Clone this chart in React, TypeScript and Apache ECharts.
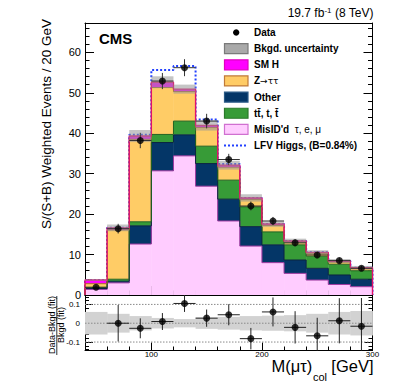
import React, { useEffect, useRef } from 'react';
import * as echarts from 'echarts';

// ---------------- data ----------------
const binLow = [40, 60, 80, 100, 120, 140, 160, 180, 200, 220, 240, 260, 280];
const binWidth = 20;
const misid = [1.4, 3.0, 12.6, 30.7, 34.4, 26.9, 18.3, 12.1, 8.0, 5.35, 3.7, 2.6, 2.05];
const other = [0.2, 0.4, 4.5, 7.0, 5.2, 5.6, 5.4, 4.8, 4.4, 3.3, 2.9, 2.35, 1.85];
const ttbar = [0.3, 0.5, 1.0, 2.0, 3.4, 4.3, 4.7, 4.9, 3.2, 3.75, 3.0, 2.65, 2.1];
const ztt = [0.9, 12.2, 20.4, 11.6, 7.3, 4.6, 3.2, 1.8, 1.6, 0.7, 0.7, 0.55, 0.5];
const smh = [0.9, 0.5, 0.8, 1.3, 0.6, 0.5, 0.5, 0.4, 0.35, 0.25, 0.25, 0.25, 0.25];
const lfvSignal = [0, 0, 0.3, 3.0, 5.7, 1.5, 0.3, 0, 0, 0, 0, 0, 0];
const dataValues = [1.9, 16.4, 38.2, 52.9, 56.2, 43.0, 33.5, 22.0, 18.3, 12.9, 9.9, 8.5, 6.6];
const dataErrors = [0.4, 1.2, 1.9, 2.0, 2.1, 1.8, 1.4, 1.1, 1.0, 0.9, 0.8, 0.7, 0.6];
const bkgRelUnc = [0.06, 0.05, 0.038, 0.028, 0.022, 0.03, 0.034, 0.038, 0.04, 0.043, 0.05, 0.06, 0.065];
const ratioValues = [null, 0.0, -0.027, 0.009, 0.105, 0.027, 0.045, -0.082, 0.06, -0.022, -0.067, 0.013, -0.016];
const ratioErrors = [null, 0.097, 0.053, 0.045, 0.045, 0.046, 0.056, 0.057, 0.077, 0.086, 0.096, 0.12, 0.15];
const ratioRefLines = [0.1, 0, -0.1];
const yTicksMain = [0, 10, 20, 30, 40, 50, 60];
const yMinorMain = [2, 4, 6, 8, 12, 14, 16, 18, 22, 24, 26, 28, 32, 34, 36, 38, 42, 44, 46, 48, 52, 54, 56, 58, 62, 64, 66];
const xTicksMajor = [100, 200, 300];
const xMinor = [60, 80, 120, 140, 160, 180, 220, 240, 260, 280];
const yTicksRatio = [-0.1, 0, 0.1];
const yMinorRatio = [-0.14, -0.12, -0.08, -0.06, -0.04, -0.02, 0.02, 0.04, 0.06, 0.08, 0.12, 0.14];
const legendLabels = ['Data', 'Bkgd. uncertainty', 'SM H', 'Z\u2192\u03c4\u03c4', 'Other', 'tt\u0304, t, t\u0304', "MisID'd", 'LFV Higgs, (B=0.84%)'];

const FONT = "'Liberation Sans', Arial, Helvetica, sans-serif";
const BLACK = '#000';

function stepPoints(tops: number[]) {
  const pts: number[][] = [[binLow[0], 0]];
  tops.forEach((t, i) => {
    pts.push([binLow[i], t]);
    pts.push([binLow[i] + binWidth, t]);
  });
  pts.push([binLow[binLow.length - 1] + binWidth, 0]);
  return pts;
}

function mkAxis(kind: 'x' | 'y', gridIndex: number, position: string, extra: any) {
  const base: any = {
    type: 'value',
    gridIndex,
    position,
    axisLine: { show: false, onZero: false, lineStyle: { color: BLACK, width: 1 } },
    axisTick: { show: false },
    axisLabel: { show: false },
    splitLine: { show: false },
  };
  if (kind === 'x') { base.min = 40; base.max = 300; }
  return { ...base, ...extra };
}
const line = { show: true, onZero: false, lineStyle: { color: BLACK, width: 1 } };
const ticks = (values: number[], length: number) => ({
  show: true, inside: true, length, customValues: values, lineStyle: { color: BLACK, width: 1 },
});

function buildOption() {
  const layers = [
    { name: 'misid', vals: misid, fill: '#ffccff', line: '#a13aa1' },
    { name: 'other', vals: other, fill: '#043667', line: '#0a2440' },
    { name: 'ttbar', vals: ttbar, fill: '#379b37', line: '#1f621f' },
    { name: 'ztt', vals: ztt, fill: '#ffcc66', line: '#a86a2a' },
    { name: 'smh', vals: smh, fill: '#ff00ff', line: '#e0106a' },
  ];
  let base = binLow.map(() => 0);
  const stacked = layers.map((l) => {
    const bottoms = base;
    const tops = base.map((b, i) => b + l.vals[i]);
    base = tops;
    return { ...l, bottoms, tops };
  });
  const total = base;

  const rectRender = (fill: string, overlap: number) => (params: any, api: any) => {
    const p1 = api.coord([api.value(0), api.value(3)]);
    const p2 = api.coord([api.value(1), api.value(2)]);
    return {
      type: 'rect',
      shape: { x: p1[0], y: p1[1], width: p2[0] - p1[0] + overlap, height: p2[1] - p1[1] },
      style: { fill },
    };
  };
  const errRender = (color: string) => (params: any, api: any) => {
    const x = api.value(0), y = api.value(1), e = api.value(2), lo = api.value(3), hi = api.value(4);
    const t = api.coord([x, y + e]);
    const b = api.coord([x, y - e]);
    const l = api.coord([lo, y]);
    const r = api.coord([hi, y]);
    return {
      type: 'group',
      children: [
        { type: 'line', shape: { x1: t[0], y1: t[1], x2: b[0], y2: b[1] }, style: { stroke: color, lineWidth: 1 } },
        { type: 'line', shape: { x1: l[0], y1: l[1], x2: r[0], y2: r[1] }, style: { stroke: color, lineWidth: 1 } },
      ],
    };
  };

  const series: any[] = [];
  series.push({
    type: 'line', name: 'LFV', xAxisIndex: 0, yAxisIndex: 0, z: 2, silent: true,
    data: stepPoints(total.map((t, i) => t + lfvSignal[i])),
    symbol: 'none', lineStyle: { color: '#2240ff', width: 2, type: [2, 2] },
  });
  stacked.forEach((l) => {
    series.push({
      type: 'custom', name: l.name + '_fill', xAxisIndex: 0, yAxisIndex: 0, z: 3, silent: true,
      data: binLow.map((lo, i) => [lo, lo + binWidth, l.bottoms[i], l.tops[i]]),
      encode: { x: [0, 1], y: [2, 3] },
      renderItem: rectRender(l.fill, 0.4),
    });
  });
  stacked.forEach((l, k) => {
    series.push({
      type: 'line', name: l.name + '_line', xAxisIndex: 0, yAxisIndex: 0, z: 4, silent: true,
      data: stepPoints(l.tops), symbol: 'none',
      lineStyle: { color: l.line, width: k === stacked.length - 1 ? 1.4 : 1 },
    });
  });
  series.push({
    type: 'custom', name: 'unc', xAxisIndex: 0, yAxisIndex: 0, z: 5, silent: true,
    data: binLow.map((lo, i) => [lo, lo + binWidth, total[i] * (1 - bkgRelUnc[i]), total[i] * (1 + bkgRelUnc[i])]),
    encode: { x: [0, 1], y: [2, 3] },
    renderItem: rectRender('rgba(150,150,150,0.55)', 0),
  });
  series.push({
    type: 'custom', name: 'dataErr', xAxisIndex: 0, yAxisIndex: 0, z: 6, silent: true,
    data: binLow.map((lo, i) => [lo + binWidth / 2, dataValues[i], dataErrors[i], lo, lo + binWidth]),
    encode: { x: 0, y: 1 },
    renderItem: errRender('#333'),
  });
  series.push({
    type: 'scatter', name: 'Data', xAxisIndex: 0, yAxisIndex: 0, z: 7, silent: true,
    data: binLow.map((lo, i) => [lo + binWidth / 2, dataValues[i]]),
    symbol: 'circle', symbolSize: 7, itemStyle: { color: BLACK },
  });
  series.push({
    type: 'custom', name: 'ratioBand', xAxisIndex: 3, yAxisIndex: 4, z: 1, silent: true,
    data: binLow.map((lo, i) => [lo, lo + binWidth, -bkgRelUnc[i], bkgRelUnc[i]]),
    encode: { x: [0, 1], y: [2, 3] },
    renderItem: rectRender('#d2d2d2', 0.4),
  });
  series.push({
    type: 'custom', name: 'ratioRef', xAxisIndex: 3, yAxisIndex: 4, z: 2, silent: true,
    data: ratioRefLines.map((v) => [40, 300, v]),
    encode: { x: [0, 1], y: 2 },
    renderItem: (params: any, api: any) => {
      const a = api.coord([api.value(0), api.value(2)]);
      const b = api.coord([api.value(1), api.value(2)]);
      return { type: 'line', shape: { x1: a[0], y1: a[1], x2: b[0], y2: b[1] }, style: { stroke: '#8a8a8a', lineWidth: 1, lineDash: [1.5, 1.5] } };
    },
  });
  const ratioRows: any[] = [];
  binLow.forEach((lo, i) => {
    if (ratioValues[i] !== null) ratioRows.push([lo + binWidth / 2, ratioValues[i], ratioErrors[i], lo, lo + binWidth]);
  });
  series.push({
    type: 'custom', name: 'ratioErr', xAxisIndex: 3, yAxisIndex: 4, z: 3, silent: true, clip: true,
    data: ratioRows, encode: { x: 0, y: 1 },
    renderItem: errRender('#222'),
  });
  series.push({
    type: 'scatter', name: 'ratio', xAxisIndex: 3, yAxisIndex: 4, z: 4, silent: true,
    data: ratioRows.map((r) => [r[0], r[1]]),
    symbol: 'circle', symbolSize: 7, itemStyle: { color: BLACK },
  });

  const graphic: any[] = [];
  const txt = (text: string, x: number, y: number, o: any = {}) => ({
    type: 'text', x, y, z: 100, rotation: o.rotation || 0,
    style: {
      text, fill: BLACK, fontFamily: FONT, fontSize: o.fontSize || 10, fontWeight: o.fontWeight || 'normal',
      align: o.align || 'left', verticalAlign: 'middle', rich: o.rich,
    },
  });
  graphic.push(txt('CMS', 99, 38.3, { fontSize: 15, fontWeight: 'bold' }));
  graphic.push(txt('{a|19.7 fb}{s|-1}{a| (8 TeV)}', 373.5, 13.3, {
    align: 'right', fontSize: 12,
    rich: { a: { fontSize: 12, fontFamily: FONT, lineHeight: 14 }, s: { fontSize: 8, fontFamily: FONT, verticalAlign: 'top', lineHeight: 14 } },
  }));
  graphic.push(txt('S/(S+B) Weighted Events / 20 GeV', 46.5, 124, { fontSize: 13.5, align: 'center', rotation: Math.PI / 2 }));
  graphic.push(txt('Data-Bkgd (fit)', 52, 325, { fontSize: 9, align: 'center', rotation: Math.PI / 2 }));
  graphic.push({ type: 'line', z: 100, shape: { x1: 56.8, y1: 296, x2: 56.8, y2: 355 }, style: { stroke: BLACK, lineWidth: 0.8 } });
  graphic.push(txt('Bkgd (fit)', 61, 325, { fontSize: 9, align: 'center', rotation: Math.PI / 2 }));
  graphic.push(txt('M(\u03bc\u03c4)', 271.5, 366, { fontSize: 16.5 }));
  graphic.push(txt('col', 313, 377.3, { fontSize: 11 }));
  graphic.push(txt('[GeV]', 373.5, 366, { fontSize: 16.5, align: 'right' }));

  const legendStyles: any[] = [
    { kind: 'dot' },
    { kind: 'box', fill: '#a9a9a9', stroke: '#7a7a7a' },
    { kind: 'box', fill: '#ff00ff', stroke: '#e000c0' },
    { kind: 'box', fill: '#ffcc66', stroke: '#c07a38' },
    { kind: 'box', fill: '#043667', stroke: '#2a5a86' },
    { kind: 'box', fill: '#379b37', stroke: '#2a7a2a' },
    { kind: 'box', fill: '#ffccff', stroke: '#d070d0' },
    { kind: 'dash' },
  ];
  legendLabels.forEach((label, i) => {
    const yc = 32.5 + i * 16.15;
    const s = legendStyles[i];
    if (s.kind === 'dot') {
      graphic.push({ type: 'circle', z: 100, shape: { cx: 236.2, cy: yc, r: 3.2 }, style: { fill: BLACK } });
    } else if (s.kind === 'box') {
      graphic.push({ type: 'rect', z: 100, shape: { x: 224.5, y: yc - 5, width: 23.5, height: 10 }, style: { fill: s.fill, stroke: s.stroke, lineWidth: 1.2 } });
    } else {
      graphic.push({ type: 'line', z: 100, shape: { x1: 224, y1: yc, x2: 248, y2: yc }, style: { stroke: '#2240ff', lineWidth: 2, lineDash: [2, 2] } });
    }
    if (i === 6) {
      graphic.push(txt('{b|' + label + '}  {n|\u03c4, e, \u03bc}', 254, yc, {
        rich: { b: { fontSize: 10, fontWeight: 'bold', fontFamily: FONT }, n: { fontSize: 10, fontFamily: FONT } },
      }));
    } else if (i === 3) {
      const parts = label.split('\u2192');
      graphic.push(txt('{b|' + parts[0] + '}{a|\u2192}{n|' + parts[1] + '}', 254, yc, {
        rich: {
          b: { fontSize: 10, fontWeight: 'bold', fontFamily: FONT },
          a: { fontSize: 9, fontFamily: "'DejaVu Sans', sans-serif" },
          n: { fontSize: 9, fontFamily: "'DejaVu Sans', sans-serif" },
        },
      }));
    } else {
      graphic.push(txt(label, 254, yc, { fontWeight: 'bold' }));
    }
  });

  const fmtRatio = (v: number) => (Math.abs(v) < 1e-9 ? '0' : v.toFixed(1));

  return {
    animation: false,
    backgroundColor: '#fff',
    textStyle: { fontFamily: FONT },
    grid: [
      { left: 85, top: 23, width: 287.5, height: 272, containLabel: false },
      { left: 85, top: 295, width: 287.5, height: 55.5, containLabel: false },
    ],
    xAxis: [
      mkAxis('x', 0, 'bottom', { axisLine: line, axisTick: ticks(xTicksMajor, 9) }),
      mkAxis('x', 0, 'bottom', { axisTick: ticks(xMinor, 4.5) }),
      mkAxis('x', 0, 'top', { axisLine: line }),
      mkAxis('x', 1, 'bottom', {
        axisLine: line, axisTick: ticks(xTicksMajor, 8),
        axisLabel: { show: true, customValues: xTicksMajor, fontSize: 8, margin: -0.5, color: BLACK, fontFamily: FONT },
      }),
      mkAxis('x', 1, 'bottom', { axisTick: ticks(xMinor, 4) }),
      mkAxis('x', 1, 'top', { axisLine: line }),
    ],
    yAxis: [
      mkAxis('y', 0, 'left', {
        min: 0, max: 67.25, axisLine: line, axisTick: ticks(yTicksMain, 9),
        axisLabel: { show: true, customValues: yTicksMain, fontSize: 11, margin: 4, color: BLACK, fontFamily: FONT },
      }),
      mkAxis('y', 0, 'left', { min: 0, max: 67.25, axisTick: ticks(yMinorMain, 4.5) }),
      mkAxis('y', 0, 'right', { min: 0, max: 67.25, axisLine: line, axisTick: ticks(yTicksMain, 9) }),
      mkAxis('y', 0, 'right', { min: 0, max: 67.25, axisTick: ticks(yMinorMain, 4.5) }),
      mkAxis('y', 1, 'left', {
        min: -0.145, max: 0.15, axisLine: line, axisTick: ticks(yTicksRatio, 8),
        axisLabel: { show: true, customValues: yTicksRatio, fontSize: 8, margin: 5, color: BLACK, fontFamily: FONT, formatter: fmtRatio },
      }),
      mkAxis('y', 1, 'left', { min: -0.145, max: 0.15, axisTick: ticks(yMinorRatio, 4) }),
      mkAxis('y', 1, 'right', { min: -0.145, max: 0.15, axisLine: line, axisTick: ticks(yTicksRatio, 8) }),
      mkAxis('y', 1, 'right', { min: -0.145, max: 0.15, axisTick: ticks(yMinorRatio, 4) }),
    ],
    series,
    graphic,
  };
}

export default function App() {
  const ref = useRef<HTMLDivElement>(null);
  useEffect(() => {
    const chart = echarts.init(ref.current as HTMLDivElement, null, { renderer: 'svg' });
    chart.setOption(buildOption() as any);
    return () => chart.dispose();
  }, []);
  return (
    <div
      ref={ref}
      style={{ position: 'fixed', left: 0, top: 0, width: 399, height: 384, background: '#fff' }}
    />
  );
}
